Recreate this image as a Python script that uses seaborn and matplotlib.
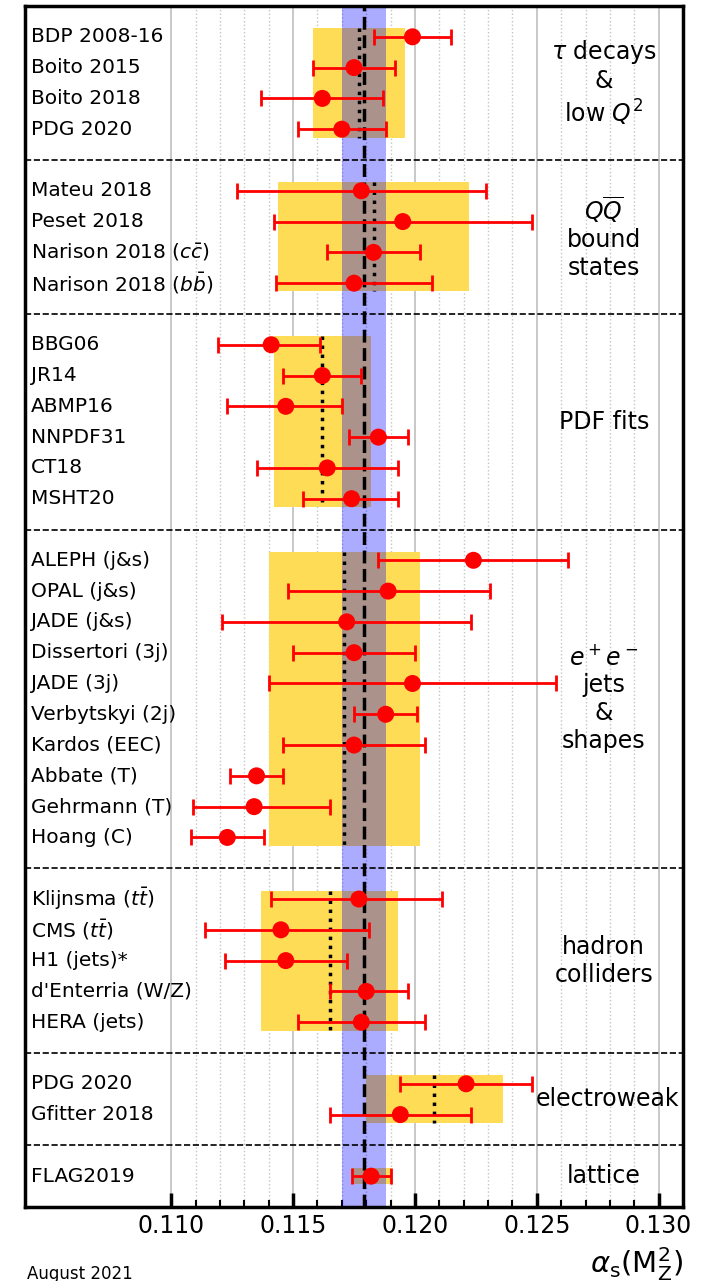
"""
alpha_s(M_Z^2) summary plot, August 2021
"""

import matplotlib
matplotlib.use('Agg')
import matplotlib.pyplot as plt
import matplotlib.transforms as mtransforms
import seaborn as sns
import pandas as pd


labels = [
    'BDP 2008-16', 'Boito 2015', 'Boito 2018', 'PDG 2020',
    'Mateu 2018', 'Peset 2018', r'Narison 2018 ($c\bar{c}$)', r'Narison 2018 ($b\bar{b}$)',
    'BBG06', 'JR14', 'ABMP16', 'NNPDF31', 'CT18', 'MSHT20',
    'ALEPH (j&s)', 'OPAL (j&s)', 'JADE (j&s)', 'Dissertori (3j)', 'JADE (3j)',
    'Verbytskyi (2j)', 'Kardos (EEC)', 'Abbate (T)', 'Gehrmann (T)', 'Hoang (C)',
    r'Klijnsma ($t\bar{t}$)', r'CMS ($t\bar{t}$)', 'H1 (jets)*', "d'Enterria (W/Z)", 'HERA (jets)',
    'PDG 2020', 'Gfitter 2018',
    'FLAG2019',
]
alpha = [
    0.1199, 0.1175, 0.1162, 0.1170,
    0.1178, 0.1195, 0.1183, 0.1175,
    0.1141, 0.1162, 0.1147, 0.1185, 0.1164, 0.1174,
    0.1224, 0.1189, 0.1172, 0.1175, 0.1199, 0.1188, 0.1175, 0.1135, 0.1134, 0.1123,
    0.1177, 0.1145, 0.1147, 0.1180, 0.1178,
    0.1221, 0.1194,
    0.1182,
]
err_lo = [
    0.0016, 0.0017, 0.0025, 0.0018,
    0.0051, 0.0053, 0.0019, 0.0032,
    0.0022, 0.0016, 0.0024, 0.0012, 0.0029, 0.0020,
    0.0039, 0.0041, 0.0051, 0.0025, 0.0059, 0.0013, 0.0029, 0.0011, 0.0025, 0.0015,
    0.0036, 0.0031, 0.0025, 0.0015, 0.0026,
    0.0027, 0.0029,
    0.0008,
]
err_hi = [
    0.0016, 0.0017, 0.0025, 0.0018,
    0.0051, 0.0053, 0.0019, 0.0032,
    0.0020, 0.0016, 0.0023, 0.0012, 0.0029, 0.0019,
    0.0039, 0.0042, 0.0051, 0.0025, 0.0059, 0.0013, 0.0029, 0.0011, 0.0031, 0.0015,
    0.0034, 0.0036, 0.0025, 0.0017, 0.0026,
    0.0027, 0.0029,
    0.0008,
]
group_sizes = [4, 4, 6, 10, 5, 2, 1]
group_names = [
    '$\\tau$ decays\n&\nlow $Q^2$',
    '$Q\\overline{Q}$\nbound\nstates',
    'PDF fits',
    '$e^+e^-$\njets\n&\nshapes',
    'hadron\ncolliders',
    'electroweak',
    'lattice',
]
group_avg = [0.1177, 0.1183, 0.1162, 0.1171, 0.1165, 0.1208, 0.1182]
group_err = [0.0019, 0.0039, 0.0020, 0.0031, 0.0028, 0.0028, 0.0008]
world_avg = 0.1179
world_err = 0.0009

major_ticks = [0.110, 0.115, 0.120, 0.125, 0.130]
minor_ticks = [0.111, 0.112, 0.113, 0.114, 0.116, 0.117, 0.118, 0.119,
               0.121, 0.122, 0.123, 0.124, 0.126, 0.127, 0.128, 0.129]

# row layout: one empty row between groups, dashed separator in the middle
rows, group_rows = [], []
r = 1
for n in group_sizes:
    group_rows.append(list(range(r, r + n)))
    rows += list(range(r, r + n))
    r += n + 1
n_rows = r - 1

df = pd.DataFrame({'label': labels, 'alpha': alpha, 'lo': err_lo, 'hi': err_hi, 'row': rows})

sns.set_style('white')
plt.rcParams['font.family'] = ['DejaVu Sans']
plt.rcParams['mathtext.fontset'] = 'dejavusans'
plt.rcParams['text.color'] = 'black'
plt.rcParams['axes.labelcolor'] = 'black'
plt.rcParams['xtick.color'] = 'black'

fig = plt.figure(figsize=(7.11, 12.81), dpi=100)
ax = fig.add_axes([0.0352, 0.0578, 0.9254, 0.9375])

# world average band
ax.axvspan(world_avg - world_err, world_avg + world_err, color='blue', alpha=0.33, lw=0, zorder=2)
ax.axvline(world_avg, color='black', ls='--', lw=2.5, zorder=3)

# group pre-averages: yellow box + dotted centre line
for gr, c, e in zip(group_rows, group_avg, group_err):
    top, bot = gr[0] - 0.27, gr[-1] + 0.27
    ax.fill_betweenx([top, bot], c - e, c + e, color='#ffdc55', lw=0, zorder=1)
    ax.vlines(c, top, bot, color='black', ls=(0, (1, 1.6)), lw=2.5, zorder=3)

# separators between groups
for gr in group_rows[:-1]:
    ax.axhline(gr[-1] + 1, color='black', ls='--', lw=1.2, zorder=3)

# error bars and points
ax.errorbar(df['alpha'], df['row'], xerr=[df['lo'], df['hi']], fmt='none',
            ecolor='red', elinewidth=2, capsize=6, capthick=2, zorder=4)
sns.scatterplot(data=df, x='alpha', y='row', color='red', s=150, edgecolor='none',
                legend=False, ax=ax, zorder=5)

# labels on the left
trans = mtransforms.blended_transform_factory(ax.transAxes, ax.transData)
for lab, rr in zip(labels, rows):
    ax.text(0.009, rr, lab, transform=trans, ha='left', va='center', fontsize=14.5, zorder=6)

# group names on the right
for name, gr in zip(group_names, group_rows):
    xpos = 0.1279 if name == 'electroweak' else 0.12775
    ax.text(xpos, (gr[0] + gr[-1]) / 2, name, ha='center', va='center', fontsize=17, zorder=6)

ax.set_xlim(0.104, 0.131)
ax.set_ylim(n_rows, 0)
ax.set_yticks([])
ax.set_xticks(major_ticks)
ax.set_xticklabels([f'{t:.3f}' for t in major_ticks])
ax.set_xticks(minor_ticks, minor=True)
ax.grid(True, which='major', axis='x', color='#c4c4c4', lw=1.3, zorder=1.5)
ax.grid(True, which='minor', axis='x', color='#c4c4c4', ls=':', lw=1.0, zorder=1.5)
ax.tick_params(axis='x', which='major', direction='in', length=10, width=2.5,
               labelsize=17, pad=5, bottom=True, top=False)
ax.tick_params(axis='x', which='minor', direction='in', length=5, width=1.5,
               bottom=True, top=False)
for sp in ax.spines.values():
    sp.set_linewidth(2.5)
    sp.set_color('black')

ax.set_ylabel('')
ax.set_xlabel(r'$\alpha_{\mathrm{s}}(\mathrm{M}_{\mathrm{Z}}^{2})$', fontsize=21, loc='right', labelpad=5)

fig.text(27 / 711, 0.0055, 'August 2021', fontsize=12, ha='left', va='center')

plt.savefig('out.png', dpi=100)
